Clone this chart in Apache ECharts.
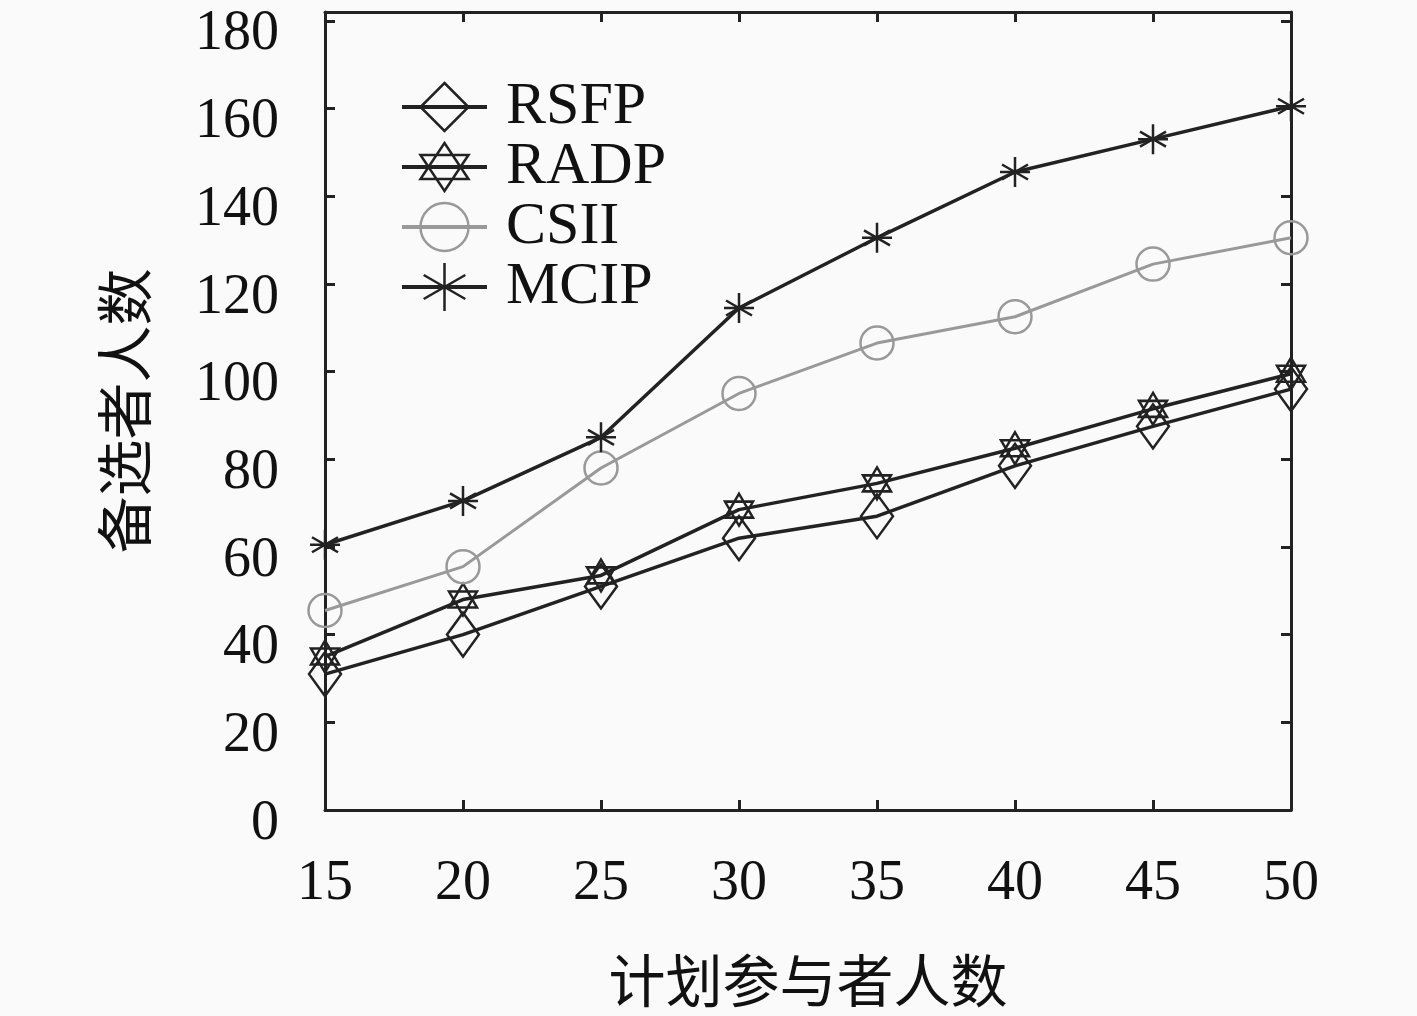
<!DOCTYPE html>
<html>
<head>
<meta charset="utf-8">
<script src="https://cdn.jsdelivr.net/npm/echarts@6/dist/echarts.min.js"></script>
<style>
  html, body { margin: 0; padding: 0; background: #fafafa; }
  #chart { width: 1417px; height: 1016px; }
</style>
</head>
<body>
<div id="chart"></div>
<script>
// 横轴：计划参与者人数
const xValues = [15, 20, 25, 30, 35, 40, 45, 50];
// 各方法的备选者人数
const rsfp = [31, 40, 51, 62, 67, 78.5, 87.5, 96];
const radp = [35, 48, 53.5, 68.5, 74.5, 82.5, 91.5, 99.5];
const csii = [45.5, 55.5, 78, 95, 106.5, 112.5, 124.5, 130.5];
const mcip = [60.5, 70.5, 85, 114.5, 130.5, 145.5, 153, 160.5];
const seriesNames = ['RSFP', 'RADP', 'CSII', 'MCIP'];

// 标记形状
const diamond = 'path://M0,-43L30,0L0,43L-30,0Z';
const hexagram = 'path://M0,-30L26,15L-26,15Z M0,30L26,-15L-26,-15Z';
const asterisk = 'path://M0,-15L0,15M-13,-7.5L13,7.5M-13,7.5L13,-7.5M-15,0L15,0';

const dark = '#222';
const gray = '#999';
const numFont = 'Liberation Serif';
const cjkFont = 'Noto Sans CJK SC';

function pairs(ys) {
  return xValues.map((x, i) => [x, ys[i]]);
}

function makeSeries(name, ys, symbol, size, color, width) {
  return {
    name,
    type: 'line',
    data: pairs(ys),
    symbol,
    symbolSize: size,
    showAllSymbol: true,
    lineStyle: { color, width },
    itemStyle: { color: 'transparent', borderColor: color, borderWidth: 2.5 },
    emphasis: { disabled: true },
    animation: false,
    z: 3
  };
}

const chart = echarts.init(document.getElementById('chart'), null, { renderer: 'canvas' });

const axisLine = { show: true, onZero: false, lineStyle: { color: dark, width: 3 } };
const tick = { show: true, inside: true, length: 10, lineStyle: { color: dark, width: 3 } };

chart.setOption({
  backgroundColor: '#fafafa',
  grid: { left: 325, right: 126, top: 12, bottom: 206 },
  legend: {
    orient: 'vertical',
    left: 395,
    top: 72,
    itemWidth: 85,
    itemHeight: 60,
    itemGap: 0,
    itemStyle: { borderWidth: 2.5 },
    lineStyle: { width: 4 },
    textStyle: {
      fontFamily: numFont, fontSize: 60, color: '#111',
      lineHeight: 60, padding: [0, 0, 0, 14]
    },
    data: seriesNames
  },
  xAxis: [
    {
      type: 'value',
      min: 15, max: 50, interval: 5,
      name: '计划参与者人数',
      nameLocation: 'middle',
      nameGap: 142,
      nameTextStyle: { fontFamily: cjkFont, fontSize: 57, color: '#111' },
      axisLine, axisTick: tick,
      splitLine: { show: false },
      axisLabel: { fontFamily: numFont, fontSize: 56, color: '#111', margin: 46 }
    },
    {
      type: 'value', position: 'top',
      min: 15, max: 50, interval: 5,
      axisLine, axisTick: tick,
      splitLine: { show: false },
      axisLabel: { show: false }
    }
  ],
  yAxis: [
    {
      type: 'value',
      min: 0, max: 182, interval: 20,
      name: '备选者人数',
      nameLocation: 'middle',
      nameGap: 172,
      nameTextStyle: { fontFamily: cjkFont, fontSize: 57, color: '#111' },
      axisLine, axisTick: tick,
      splitLine: { show: false },
      axisLabel: {
        fontFamily: numFont, fontSize: 56, color: '#111', margin: 46,
        showMaxLabel: false,
        verticalAlign: 'top',
        lineHeight: 28,
        formatter: v => (v % 20 === 0 ? String(v) : '')
      }
    },
    {
      type: 'value', position: 'right',
      min: 0, max: 182, interval: 20,
      axisLine, axisTick: tick,
      splitLine: { show: false },
      axisLabel: { show: false }
    }
  ],
  series: [
    makeSeries('RSFP', rsfp, diamond, [32, 44], dark, 3.5),
    makeSeries('RADP', radp, hexagram, [28, 32], dark, 3.5),
    makeSeries('CSII', csii, 'circle', 33, gray, 3),
    makeSeries('MCIP', mcip, asterisk, [30, 30], dark, 3.5)
  ]
});
</script>
</body>
</html>
